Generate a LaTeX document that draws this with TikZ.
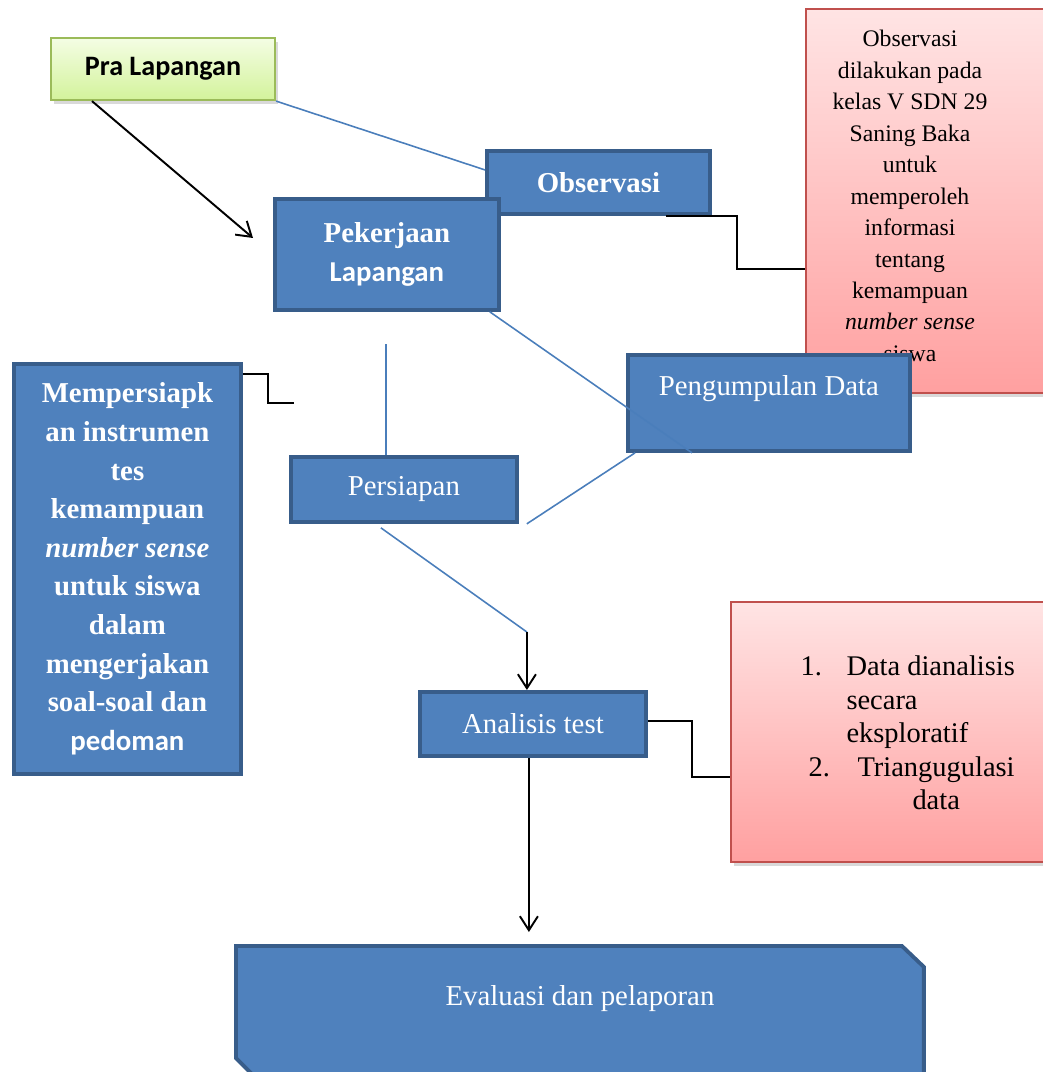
\documentclass[tikz,border=0pt]{standalone}
\usepackage{fontspec}
\setmainfont{Liberation Serif}
\newfontfamily\carlito{Carlito}
\usepackage{tikz}
\usetikzlibrary{arrows.meta, shadows, calc, backgrounds}
\definecolor{blue1}{HTML}{4F81BD}
\definecolor{blue2}{HTML}{385D8A}
\definecolor{blueline}{HTML}{4A7EBB}
\definecolor{red1}{HTML}{C0504D}
\definecolor{pink1}{HTML}{FFE4E4}
\definecolor{pink2}{HTML}{FFA0A0}
\definecolor{green1}{HTML}{F4FDE4}
\definecolor{green2}{HTML}{D3F39B}
\definecolor{green3}{HTML}{9BBB59}

\begin{document}
\begin{tikzpicture}[x=0.02cm,y=-0.02cm,>={Straight Barb[length=0.28cm,width=0.36cm]},
                    semithick]
  \tikzstyle{blue box}=[rectangle,fill=blue1,draw=blue2,line width=2.2pt,text=white,
                        align=center,inner sep=0pt,font=\fontsize{16.4}{22}\selectfont]
  \tikzstyle{bold text}=[font=\fontsize{16.4}{22}\selectfont\bfseries]
  \tikzstyle{red box}=[rectangle,top color=pink1,bottom color=pink2,draw=red1,line width=1.2pt,
                       drop shadow={opacity=0.3,shadow xshift=0.05cm,shadow yshift=-0.08cm}]
  \tikzstyle{green box}=[rectangle,top color=green1,bottom color=green2,draw=green3,line width=1.2pt,
                         drop shadow={opacity=0.3,shadow xshift=0.05cm,shadow yshift=-0.08cm}]
  \tikzstyle{label text}=[text=white,font=\fontsize{16.4}{22}\selectfont]
  \tikzstyle{blue line}=[draw=blueline,line width=0.9pt]
  \tikzstyle{black line}=[draw=black,line width=1.1pt]

  \useasboundingbox (0,0) rectangle (1043,1072);

  \node[green box, minimum width=4.48cm, minimum height=1.24cm, anchor=north west,
        font=\fontsize{16}{20}\selectfont\carlito\bfseries] (pra) at (50,37) {Pra Lapangan};
  \node[blue box, bold text, minimum width=4.46cm, minimum height=1.26cm,
        anchor=north west] (obs) at (485,149) {Observasi};
  \node[blue box, bold text, minimum width=4.48cm, minimum height=2.22cm,
        anchor=north west] (pek) at (273,197) {Pekerjaan\\ {\carlito Lapangan}};

  \node[red box, minimum width=4.9cm, minimum height=7.68cm, anchor=north west] (info) at (805,8) {};
  \node[align=center, inner sep=0pt, font=\fontsize{13.5}{17.9}\selectfont] (infotext) at (910,196)
       {Observasi\\ dilakukan pada\\ kelas V SDN 29\\ Saning Baka\\ untuk\\ memperoleh\\ informasi\\
        tentang\\ kemampuan\\ \textit{number sense}\\ siswa};

  \node[blue box, minimum width=5.64cm, minimum height=1.92cm, anchor=north west,
        label={[label text, yshift=0.28cm]center:Pengumpulan Data}] (peng) at (626,353) {};

  \node[blue box, bold text, minimum width=4.54cm, minimum height=8.2cm, anchor=north west]
       (prep) at (12,362) {Mempersiapk\\ an instrumen\\ tes\\ kemampuan\\ \textit{number sense}\\
        untuk siswa\\ dalam\\ mengerjakan\\ soal-soal dan\\ {\carlito pedoman}};
  \node[blue box, minimum width=4.52cm, minimum height=1.3cm, anchor=north west] (pers) at (289,455) {Persiapan};
  \node[blue box, minimum width=4.52cm, minimum height=1.28cm, anchor=north west] (ana) at (418,690) {Analisis test};

  \node[red box, minimum width=6.4cm, minimum height=5.2cm, anchor=north west] (hasil) at (730,601) {};
  \node[align=left, inner sep=0pt, anchor=west, font=\fontsize{16.2}{19}\selectfont] (hasiltext) at (800,733)
       {\makebox[0.92cm][l]{1.}Data dianalisis\\ \hspace*{0.92cm}secara\\ \hspace*{0.92cm}eksploratif\\
        \hspace*{0.16cm}\makebox[0.98cm][l]{2.}Triangugulasi\\ \hspace*{2.24cm}data};

  \node[rectangle, minimum width=13.74cm, minimum height=2.62cm, anchor=north west, inner sep=0pt,
        label={[label text, yshift=0.27cm]center:Evaluasi dan pelaporan}] (eval) at (236,946) {};
  % chamfered outline of the last box
  \begin{pgfonlayer}{background}
    \draw[fill=blue1, draw=blue2, line width=2.2pt, line join=miter]
      (eval.north west) -- ([xshift=-0.44cm]eval.north east) -- ([yshift=-0.42cm]eval.north east)
      -- (eval.south east) -- ([xshift=0.4cm]eval.south west) -- ([yshift=0.4cm]eval.south west) -- cycle;
  \end{pgfonlayer}

  % connectors
  \draw[black line,->] ([xshift=0.84cm]pra.south west) -- ([xshift=-0.4cm,yshift=-0.82cm]pek.north west);
  \draw[blue line] (pra.south east) -- ([yshift=0.25cm]obs.west);
  \draw[black line] ([xshift=-0.92cm]obs.south east) -- ++(71,0) |- ([yshift=-1.36cm]info.west);
  \draw[blue line] ([xshift=-0.22cm]pek.south east) -- ([xshift=1.32cm]peng.south west);
  \draw[blue line] ([xshift=-0.36cm]pers.north) -- ++(0,-111);
  \draw[black line] ([yshift=-0.24cm]prep.north east) -- ++(25,0) -- ++(0,29) -- ++(26,0);
  \draw[blue line] ([xshift=0.16cm]pers.south east) -- ([xshift=0.18cm]peng.south west);
  \coordinate (bend) at ([xshift=-0.12cm,yshift=1.16cm]ana.north);
  \draw[blue line] ([xshift=-0.46cm,yshift=-0.08cm]pers.south) -- (bend);
  \draw[black line,->] (bend) -- ([xshift=-0.12cm]ana.north);
  \draw[black line,->,shorten >=0.28cm] ([xshift=-0.08cm]ana.south) -- ([xshift=-0.08cm]ana.south |- eval.north);
  \draw[black line] ([yshift=0.06cm]ana.east) -- ++(44,0) |- ([yshift=-0.9cm]hasil.west);
\end{tikzpicture}
\end{document}
